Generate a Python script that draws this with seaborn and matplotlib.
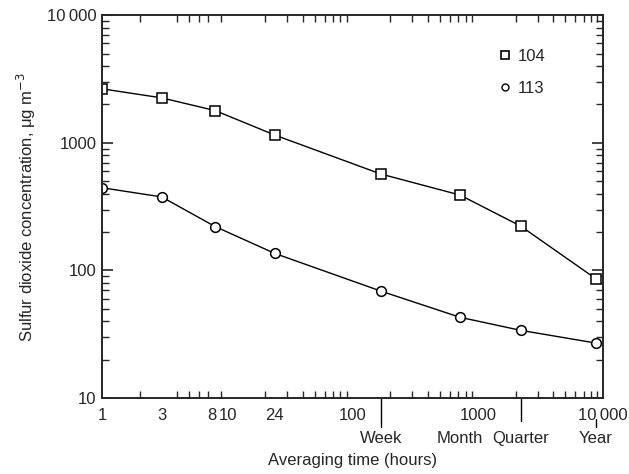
import numpy as np
import pandas as pd
import seaborn as sns
import matplotlib.pyplot as plt
from matplotlib.ticker import LogLocator, NullFormatter
from matplotlib.lines import Line2D
import matplotlib.transforms as mtransforms

sns.set_style("ticks")
plt.rcParams['font.family'] = ['Liberation Sans', 'DejaVu Sans']

# Data
hours = [1, 3, 8, 24, 168, 720, 2190, 8760]
site_104 = [2650, 2250, 1790, 1150, 570, 390, 223, 86]
site_113 = [445, 377, 221, 136, 69, 43, 34, 27]

x_ticks = [1, 3, 8, 10, 24, 100, 1000, 10000]
x_tick_labels = ["1", "3", "8", "10", "24", "100", "1000", "10\u2009000"]
period_hours = [168, 720, 2190, 8760]
period_labels = ["Week", "Month", "Quarter", "Year"]
period_marker_len = [0.075, 0.0, 0.06, 0.02]

df = pd.concat([
    pd.DataFrame({"hours": hours, "conc": site_104, "site": "104"}),
    pd.DataFrame({"hours": hours, "conc": site_113, "site": "113"}),
])

fig = plt.figure(figsize=(6.29, 4.74), dpi=100)
ax = fig.add_axes([0.162, 0.160, 0.797, 0.808])

sns.lineplot(data=df, x="hours", y="conc", style="site",
             markers={"104": "s", "113": "o"}, dashes=False,
             color="black", linewidth=1.0, markersize=7,
             markerfacecolor="white", markeredgecolor="black",
             markeredgewidth=1.1, legend=False, ax=ax)

ax.set_xscale("log")
ax.set_yscale("log")
ax.set_xlim(1, 10000)
ax.set_ylim(10, 10000)

# x ticks
ax.set_xticks(x_ticks)
ax.set_xticklabels(x_tick_labels)
ax.xaxis.set_minor_locator(LogLocator(base=10, subs=np.arange(1, 10), numticks=50))
ax.xaxis.set_minor_formatter(NullFormatter())
ax.tick_params(axis="x", which="major", length=0, pad=7, labelsize=12)
ax.tick_params(axis="x", which="minor", length=5, width=1.0, direction="in",
               top=True, bottom=True)

# nudge "8" and "10" so they sit tight together like "810"
xlabels = ax.get_xticklabels()
xlabels[2].set_transform(xlabels[2].get_transform()
                         + mtransforms.ScaledTranslation(-2.5 / 72, 0, fig.dpi_scale_trans))
xlabels[3].set_transform(xlabels[3].get_transform()
                         + mtransforms.ScaledTranslation(0.5 / 72, 0, fig.dpi_scale_trans))

# y ticks
ax.set_yticks([10, 100, 1000, 10000])
ax.set_yticklabels(["10", "100", "1000", "10\u2009000"])
ax.yaxis.set_minor_locator(LogLocator(base=10, subs=np.arange(2, 10), numticks=50))
ax.yaxis.set_minor_formatter(NullFormatter())
ax.tick_params(axis="y", which="major", length=8, width=1.2, direction="in",
               left=True, right=True, labelsize=12, pad=4)
ax.tick_params(axis="y", which="minor", length=5, width=1.0, direction="in",
               left=True, right=True)

for sp in ax.spines.values():
    sp.set_linewidth(1.4)
    sp.set_visible(True)

# Period labels below the axis
trans = mtransforms.blended_transform_factory(ax.transData, ax.transAxes)
for h, lab, ln in zip(period_hours, period_labels, period_marker_len):
    if ln > 0:
        y0 = 0.0 if lab != "Year" else -0.055
        ax.plot([h, h], [y0, y0 - ln], color="black", lw=1.0,
                transform=trans, clip_on=False)
    ax.text(h, -0.085, lab, transform=trans, ha="center", va="top", fontsize=12)

ax.set_xlabel("Averaging time (hours)", fontsize=12, labelpad=22)
ax.set_ylabel("Sulfur dioxide concentration, \u03bcg m$^{-3}$", fontsize=12, labelpad=6)

# Legend
handles = [
    Line2D([], [], marker="s", linestyle="none", markersize=6,
           markerfacecolor="white", markeredgecolor="black", markeredgewidth=1.2),
    Line2D([], [], marker="o", linestyle="none", markersize=5,
           markerfacecolor="white", markeredgecolor="black", markeredgewidth=1.0),
]
ax.legend(handles, ["104", "113"], loc="upper right", bbox_to_anchor=(0.915, 0.95),
          frameon=False, fontsize=12, handletextpad=0.3, handlelength=1.0,
          labelspacing=1.0)

plt.savefig("out.png", dpi=100)
plt.close()
